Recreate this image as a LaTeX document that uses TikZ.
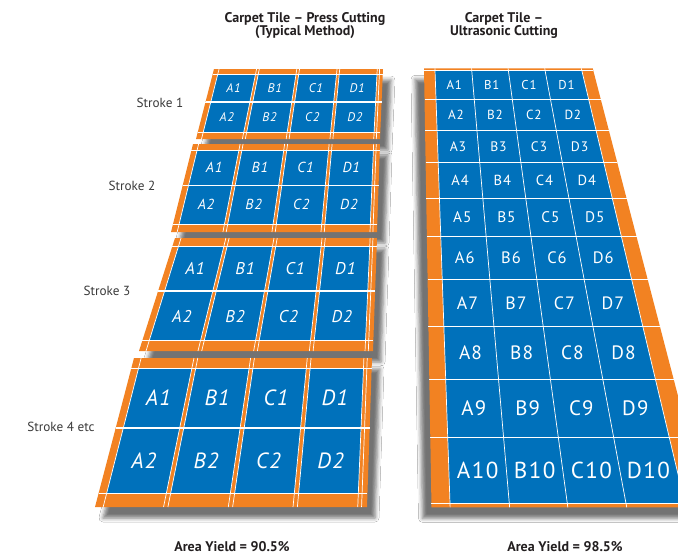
\documentclass[tikz,border=0pt]{standalone}
\usepackage{fontspec}
\setmainfont{PT Sans}
\newfontfamily\lblfont[LetterSpace=6]{PT Sans}
\usetikzlibrary{calc,shadows.blur}
\definecolor{orng}{HTML}{F28222}
\definecolor{blu}{HTML}{0071BB}
\definecolor{txt}{HTML}{231F20}
\definecolor{stk}{HTML}{3A3A3A}
\newcommand\PQ[2]{($($(TL)!#1!(TR)$)!#2!($(BL)!#1!(BR)$)$)}
\tikzset{
  wl/.style={draw=white, line width=0.7pt},
  lbl/.style={text=white, inner sep=0pt},
  ttl/.style={text=txt, font=\fontsize{14}{13.5}\selectfont\bfseries, align=center},
  stklbl/.style={text=stk, font=\fontsize{13.2}{14}\selectfont},
  lshadow/.style={blur shadow={shadow xshift=8pt, shadow yshift=-11pt, shadow blur radius=4pt, shadow opacity=55}},
  rshadow/.style={blur shadow={shadow xshift=-9pt, shadow yshift=-11pt, shadow blur radius=4pt, shadow opacity=55}},
}
\newcommand\tilepanel[6]{%
  \coordinate (TL) at (#1); \coordinate (TR) at (#2);
  \coordinate (BL) at (#3); \coordinate (BR) at (#4);
  \fill[orng, lshadow] (TL)--(TR)--(BR)--(BL)--cycle;
  \foreach \ua/\ub/\col in {0.030/0.252/A,0.268/0.490/B,0.506/0.728/C,0.744/0.966/D}{
    \foreach \va/\vb/\row in {0.072/0.466/1,0.474/0.908/2}{
      \fill[blu] \PQ{\ua}{\va} -- \PQ{\ub}{\va} -- \PQ{\ub}{\vb} -- \PQ{\ua}{\vb} -- cycle;
      \pgfmathsetmacro\uc{(\ua+\ub)/2}
      \pgfmathsetmacro\vc{(\va+\vb)/2}
      \node[lbl, font=\lblfont\fontsize{#5}{#5}\selectfont\itshape] (#6\col\row) at \PQ{\uc}{\vc} {\col\row};
    }
  }
  \foreach \u in {0.030,0.252,0.268,0.490,0.506,0.728,0.744,0.966,0.980}
    \draw[wl] \PQ{\u}{0} -- \PQ{\u}{1};
  \foreach \v in {0.072,0.466,0.474,0.908}
    \draw[wl] \PQ{0}{\v} -- \PQ{1}{\v};
}
\begin{document}
\begin{tikzpicture}[x=1pt,y=-1pt]
\useasboundingbox (0,0) rectangle (678,555);
\fill[white] (0,0) rectangle (678,555);
\clip (0,0) rectangle (678,555);

% titles
\node[ttl] (t1) at (305,25.5) {Carpet Tile – Press Cutting\\(Typical Method)};
\node[ttl] (t2) at (504,25.5) {Carpet Tile –\\Ultrasonic Cutting};

% stroke labels
\node[stklbl] (s1) at (160,103) {Stroke 1};
\node[stklbl] (s2) at (132,186) {Stroke 2};
\node[stklbl] (s3) at (107,291) {Stroke 3};
\node[stklbl] (s4) at (61,427) {Stroke 4 etc};

% left panels
\tilepanel{214,69}{383,69}{196,139}{380,139}{12.5}{pa}
\tilepanel{193,144}{380,144}{171,232}{377,232}{14.5}{pb}
\tilepanel{175,238}{377,238}{139,351}{373,351}{17}{pc}
\tilepanel{134,358}{372,358}{95,507}{367,507}{22}{pd}

% right panel
\fill[orng, rshadow] (424,68.3) -- (592.7,68.3) -- (707,507.3) -- (431.5,507.3) -- cycle;
\foreach \xta/\xbta/\xtb/\xbtb/\col in {435/450/471.7/509.3/A, 471.7/509.3/508.3/567.3/B, 508.3/567.3/545/626/C, 545/626/581.7/685/D}{
  \foreach \ya/\yb/\row in {70/99.3/1, 99.3/130/2, 130/162.7/3, 162.7/198.3/4, 198.3/236.7/5, 236.7/279.3/6, 279.3/326.7/7, 326.7/379.3/8, 379.3/437.3/9, 437.3/503.3/10}{
    \pgfmathsetmacro\ta{(\ya-70)/433.3}
    \pgfmathsetmacro\tb{(\yb-70)/433.3}
    \pgfmathsetmacro\pxa{\xta+(\xbta-\xta)*\ta}
    \pgfmathsetmacro\pxb{\xtb+(\xbtb-\xtb)*\ta}
    \pgfmathsetmacro\pxc{\xtb+(\xbtb-\xtb)*\tb}
    \pgfmathsetmacro\pxd{\xta+(\xbta-\xta)*\tb}
    \fill[blu] (\pxa,\ya) -- (\pxb,\ya) -- (\pxc,\yb) -- (\pxd,\yb) -- cycle;
    \pgfmathsetmacro\xc{(\pxa+\pxb+\pxc+\pxd)/4}
    \pgfmathsetmacro\yc{(\ya+\yb)/2}
    \pgfmathsetmacro\fs{4.6+0.28*(\yb-\ya)}
    \node[lbl, font=\lblfont\fontsize{\fs}{\fs}\selectfont] (r\col\row) at (\xc,\yc) {\col\row};
  }
}
\foreach \xt/\xb in {435/450, 471.7/509.3, 508.3/567.3, 545/626, 581.7/685}{
  \pgfmathsetmacro\xu{\xt-(\xb-\xt)*0.004}
  \pgfmathsetmacro\xd{\xt+(\xb-\xt)*1.009}
  \draw[wl] (\xu,68.3) -- (\xd,507.3);
}
\foreach \y in {70,99.3,130,162.7,198.3,236.7,279.3,326.7,379.3,437.3,503.3}{
  \pgfmathsetmacro\sy{(\y-68.3)/439}
  \pgfmathsetmacro\xl{424+7.5*\sy}
  \pgfmathsetmacro\xr{592.7+114.3*\sy}
  \draw[wl] (\xl,\y) -- (\xr,\y);
}

% yields
\node[ttl, inner sep=0pt] (y1) at (232,547) {Area Yield = 90.5\%};
\node[ttl, inner sep=0pt] (y2) at (565,547) {Area Yield = 98.5\%};
\end{tikzpicture}
\end{document}
